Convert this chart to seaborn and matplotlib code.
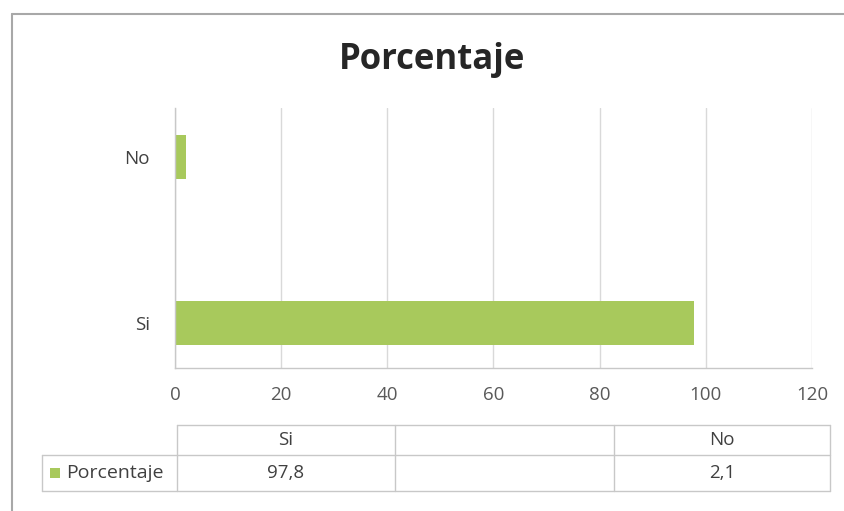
import matplotlib
matplotlib.use("Agg")
import matplotlib.pyplot as plt
import seaborn as sns
import pandas as pd
from matplotlib.patches import Rectangle
from matplotlib.lines import Line2D

# ---- data ----
categories = ["No", "Si"]
values = [2.1, 97.8]
x_ticks = [0, 20, 40, 60, 80, 100, 120]
table_cols = ["Si", "", "No"]
table_vals = ["97,8", "", "2,1"]
series_name = "Porcentaje"
title = "Porcentaje"

GREEN = "#a8c95c"
GRID = "#d9d9d9"
TXT = "#404040"

W, H = 845, 511
sns.set_theme(style="white")
plt.rcParams['font.family'] = ['Open Sans', 'DejaVu Sans']

fig = plt.figure(figsize=(W / 100, H / 100), dpi=100)
fig.patch.set_facecolor("white")


def fx(px):
    return px / W


def fy(py):
    return 1 - py / H


ax_l, ax_r, ax_t, ax_b = 175, 812, 108, 368
ax = fig.add_axes([fx(ax_l), fy(ax_b), (ax_r - ax_l) / W, (ax_b - ax_t) / H])

df = pd.DataFrame({"cat": categories, "val": values})
sns.barplot(data=df, x="val", y="cat", order=categories, color=GREEN,
            width=0.265, saturation=1, ax=ax, edgecolor="none")
ax.set_xlim(0, 120)
ax.set_ylim(1.271, -0.295)
ax.set_xticks(x_ticks)
ax.set_xticklabels([str(t) for t in x_ticks])
ax.set_xlabel("")
ax.set_ylabel("")
ax.grid(axis="x", color=GRID, lw=1)
ax.grid(axis="y", visible=False)
ax.set_axisbelow(True)
for s in ["top", "right"]:
    ax.spines[s].set_visible(False)
for s in ["left", "bottom"]:
    ax.spines[s].set_color("#c8c8c8")
    ax.spines[s].set_linewidth(1)
ax.tick_params(axis="x", length=0, pad=13, labelsize=13.5, labelcolor="#595959")
ax.tick_params(axis="y", length=0, pad=18, labelsize=13.5, labelcolor=TXT)

fig.text(0.511, fy(69), title, ha="center", va="baseline", fontsize=25,
         fontweight="bold", color="#262626")

# outer frame (top and left)
fig.add_artist(Line2D([fx(12), 1.0], [fy(14), fy(14)], color="#a8a8a8", lw=1.5))
fig.add_artist(Line2D([fx(12), fx(12)], [fy(14), 0.0], color="#a8a8a8", lw=1.5))

# data table
TL = "#c8c8c8"
cols_x = [177, 395, 614, 830]
y_top, y_mid, y_bot = 425, 455, 491
label_left = 42
fig.add_artist(Line2D([fx(cols_x[0]), fx(cols_x[-1])], [fy(y_top)] * 2, color=TL, lw=1))
for yy in (y_mid, y_bot):
    fig.add_artist(Line2D([fx(label_left), fx(cols_x[-1])], [fy(yy)] * 2, color=TL, lw=1))
fig.add_artist(Line2D([fx(label_left)] * 2, [fy(y_mid), fy(y_bot)], color=TL, lw=1))
for xx in cols_x:
    fig.add_artist(Line2D([fx(xx)] * 2, [fy(y_top), fy(y_bot)], color=TL, lw=1))

for i, (c, v) in enumerate(zip(table_cols, table_vals)):
    cx = (cols_x[i] + cols_x[i + 1]) / 2
    fig.text(fx(cx), fy((y_top + y_mid) / 2), c, ha="center", va="center",
             fontsize=13.5, color=TXT)
    fig.text(fx(cx), fy((y_mid + y_bot) / 2), v, ha="center", va="center",
             fontsize=13.5, color=TXT)

fig.add_artist(Rectangle((fx(50), fy(478)), 10 / W, 10 / H, facecolor=GREEN,
                         edgecolor="none", transform=fig.transFigure))
fig.text(fx(66), fy((y_mid + y_bot) / 2), series_name, ha="left", va="center",
         fontsize=14, color=TXT)

fig.savefig("out.png", dpi=100, facecolor="white")
